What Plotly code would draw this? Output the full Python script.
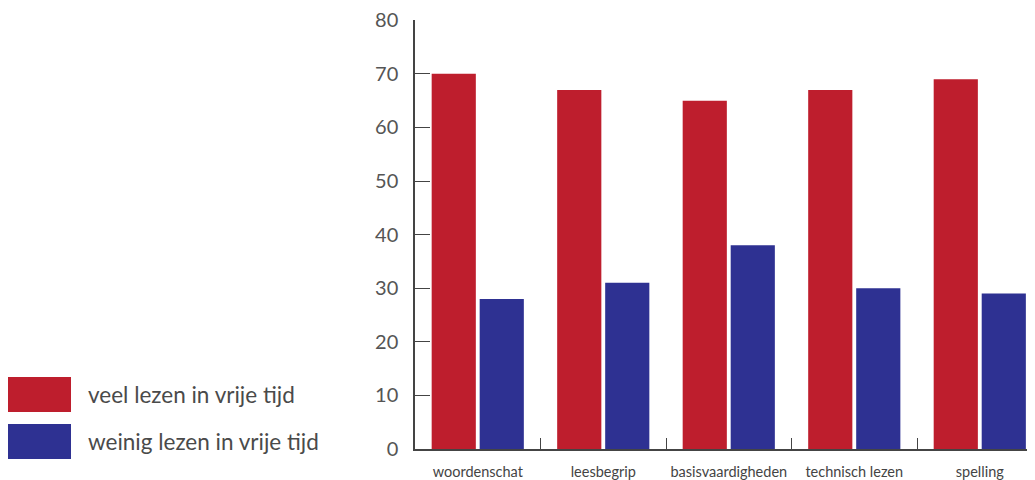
import plotly.graph_objects as go

categories = ["woordenschat", "leesbegrip", "basisvaardigheden", "technisch lezen", "spelling"]
series_names = ["veel lezen in vrije tijd", "weinig lezen in vrije tijd"]
veel = [70, 67, 65, 67, 69]
weinig = [28, 31, 38, 30, 29]
y_ticks = [0, 10, 20, 30, 40, 50, 60, 70, 80]

colors = ["#BE1E2D", "#2E3192"]

OFF = 8  # page body margin
W, H = 1035 - OFF, 480 - OFF
ml, mr, mt, mb = 415 - OFF, 0, 20 - OFF, 31
pw, ph = W - ml - mr, H - mt - mb

fig = go.Figure()
for name, vals, c in zip(series_names, [veel, weinig], colors):
    fig.add_trace(go.Bar(x=categories, y=vals, name=name, marker=dict(color=c, line=dict(width=0))))

def px2paper_x(px):  # page pixel -> paper
    return (px - OFF - ml) / pw

def px2paper_y(py):
    return (H - mb - (py - OFF)) / ph

legend_rows = [(377, 412), (424, 459)]
shapes = []
annotations = []
for (y0, y1), name, c in zip(legend_rows, series_names, colors):
    shapes.append(dict(type="rect", xref="paper", yref="paper",
                       x0=px2paper_x(8), x1=px2paper_x(71),
                       y0=px2paper_y(y1), y1=px2paper_y(y0),
                       fillcolor=c, line=dict(width=0)))
    annotations.append(dict(xref="paper", yref="paper", x=px2paper_x(86), y=px2paper_y((y0 + y1) / 2),
                            xanchor="left", yanchor="middle", text=name, showarrow=False,
                            font=dict(family="Lato", size=22.5, color="#4a4a4a")))

fig.update_layout(
    width=W, height=H,
    margin=dict(l=ml, r=mr, t=mt, b=mb, pad=0, autoexpand=False),
    paper_bgcolor="white", plot_bgcolor="white",
    barmode="group", bargap=0.235, bargroupgap=0.08,
    showlegend=False,
    shapes=shapes, annotations=annotations,
    xaxis=dict(range=[-0.5, 4.44], tickson="boundaries", ticks="inside", ticklen=11,
               tickcolor="#444", showline=True, linecolor="#444", linewidth=1.5,
               showgrid=False, tickfont=dict(family="Lato", size=14.5, color="#444"),
               tickangle=0, automargin=False, ticklabelstandoff=9),
    yaxis=dict(range=[0, 80.05], tickmode="array", tickvals=y_ticks,
               ticktext=[str(v) for v in y_ticks], ticks="inside", ticklen=15,
               tickcolor="#444", showline=True, linecolor="#444", linewidth=1.5,
               showgrid=False, zeroline=False, automargin=False,
               tickfont=dict(family="Lato", size=20, color="#555"),
               ticklabelstandoff=11, ticklabeloverflow="allow"),
)

fig.write_html("out.html")
